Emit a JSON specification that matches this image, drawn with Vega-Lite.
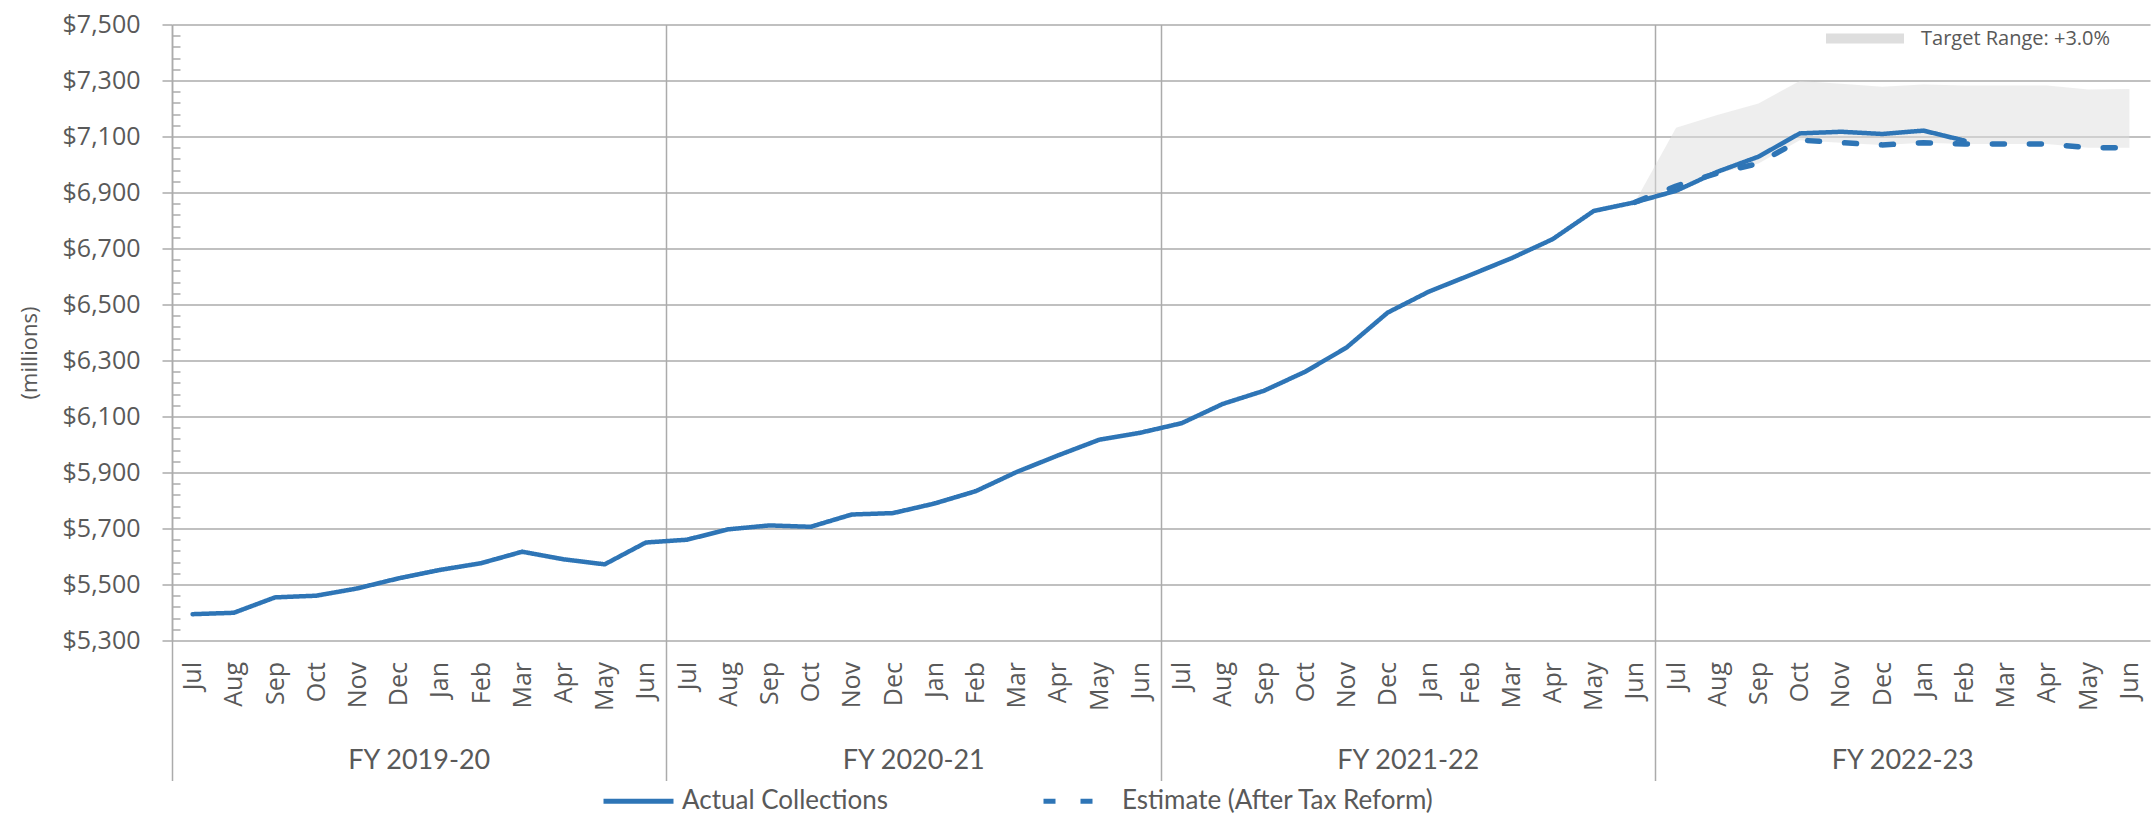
{
  "$schema": "https://vega.github.io/schema/vega-lite/v6.json",
  "width": 1978,
  "height": 616,
  "autosize": {"type": "none"},
  "padding": {"left": 172, "top": 24.5, "right": 1, "bottom": 176.5},
  "background": "white",
  "config": {
    "view": {"stroke": null},
    "font": "Open Sans",
    "axis": {"labelColor": "#595959", "titleColor": "#595959"}
  },
  "datasets": {
    "monthly": [
      {"key": "2019-07|Jul", "actual": 5394, "estimate": null, "upper": null},
      {"key": "2019-08|Aug", "actual": 5399, "estimate": null, "upper": null},
      {"key": "2019-09|Sep", "actual": 5454, "estimate": null, "upper": null},
      {"key": "2019-10|Oct", "actual": 5460, "estimate": null, "upper": null},
      {"key": "2019-11|Nov", "actual": 5486, "estimate": null, "upper": null},
      {"key": "2019-12|Dec", "actual": 5522, "estimate": null, "upper": null},
      {"key": "2020-01|Jan", "actual": 5552, "estimate": null, "upper": null},
      {"key": "2020-02|Feb", "actual": 5576, "estimate": null, "upper": null},
      {"key": "2020-03|Mar", "actual": 5617, "estimate": null, "upper": null},
      {"key": "2020-04|Apr", "actual": 5590, "estimate": null, "upper": null},
      {"key": "2020-05|May", "actual": 5572, "estimate": null, "upper": null},
      {"key": "2020-06|Jun", "actual": 5650, "estimate": null, "upper": null},
      {"key": "2020-07|Jul", "actual": 5660, "estimate": null, "upper": null},
      {"key": "2020-08|Aug", "actual": 5697, "estimate": null, "upper": null},
      {"key": "2020-09|Sep", "actual": 5711, "estimate": null, "upper": null},
      {"key": "2020-10|Oct", "actual": 5706, "estimate": null, "upper": null},
      {"key": "2020-11|Nov", "actual": 5750, "estimate": null, "upper": null},
      {"key": "2020-12|Dec", "actual": 5755, "estimate": null, "upper": null},
      {"key": "2021-01|Jan", "actual": 5789, "estimate": null, "upper": null},
      {"key": "2021-02|Feb", "actual": 5833, "estimate": null, "upper": null},
      {"key": "2021-03|Mar", "actual": 5902, "estimate": null, "upper": null},
      {"key": "2021-04|Apr", "actual": 5961, "estimate": null, "upper": null},
      {"key": "2021-05|May", "actual": 6017, "estimate": null, "upper": null},
      {"key": "2021-06|Jun", "actual": 6042, "estimate": null, "upper": null},
      {"key": "2021-07|Jul", "actual": 6076, "estimate": null, "upper": null},
      {"key": "2021-08|Aug", "actual": 6145, "estimate": null, "upper": null},
      {"key": "2021-09|Sep", "actual": 6192, "estimate": null, "upper": null},
      {"key": "2021-10|Oct", "actual": 6260, "estimate": null, "upper": null},
      {"key": "2021-11|Nov", "actual": 6346, "estimate": null, "upper": null},
      {"key": "2021-12|Dec", "actual": 6471, "estimate": null, "upper": null},
      {"key": "2022-01|Jan", "actual": 6546, "estimate": null, "upper": null},
      {"key": "2022-02|Feb", "actual": 6605, "estimate": null, "upper": null},
      {"key": "2022-03|Mar", "actual": 6665, "estimate": null, "upper": null},
      {"key": "2022-04|Apr", "actual": 6733, "estimate": null, "upper": null},
      {"key": "2022-05|May", "actual": 6834, "estimate": null, "upper": null},
      {"key": "2022-06|Jun", "actual": 6865, "estimate": 6865, "upper": 6865},
      {"key": "2022-07|Jul", "actual": 6906, "estimate": 6923, "upper": 7131},
      {"key": "2022-08|Aug", "actual": 6974, "estimate": 6969, "upper": 7177},
      {"key": "2022-09|Sep", "actual": 7028, "estimate": 7004, "upper": 7218},
      {"key": "2022-10|Oct", "actual": 7111, "estimate": 7087, "upper": 7298},
      {"key": "2022-11|Nov", "actual": 7117, "estimate": 7078, "upper": 7288},
      {"key": "2022-12|Dec", "actual": 7109, "estimate": 7070, "upper": 7278},
      {"key": "2023-01|Jan", "actual": 7121, "estimate": 7078, "upper": 7286},
      {"key": "2023-02|Feb", "actual": 7085, "estimate": 7073, "upper": 7282},
      {"key": "2023-03|Mar", "actual": null, "estimate": 7073, "upper": 7282},
      {"key": "2023-04|Apr", "actual": null, "estimate": 7073, "upper": 7282},
      {"key": "2023-05|May", "actual": null, "estimate": 7060, "upper": 7268},
      {"key": "2023-06|Jun", "actual": null, "estimate": 7060, "upper": 7270}
    ],
    "fy": [
      {"fy": "FY 2019-20"},
      {"fy": "FY 2020-21"},
      {"fy": "FY 2021-22"},
      {"fy": "FY 2022-23"}
    ]
  },
  "layer": [
    {
      "data": {"name": "monthly"},
      "encoding": {
        "x": {
          "field": "key",
          "type": "ordinal",
          "scale": {"type": "point", "padding": 0.5},
          "axis": {
            "orient": "bottom",
            "title": null,
            "ticks": false,
            "tickSize": 0,
            "domain": false,
            "grid": false,
            "labelAngle": 270,
            "labelPadding": 21,
            "labelFont": "Open Sans",
            "labelFontSize": 25,
            "labelColor": "#595959",
            "labelOverlap": false,
            "labelExpr": "split(datum.label, '|')[1]"
          }
        }
      },
      "layer": [
        {
          "transform": [{"filter": "datum.estimate != null"}],
          "mark": {"type": "area", "color": "#bfbfbf", "opacity": 0.5},
          "encoding": {
            "y": {
              "field": "estimate",
              "type": "quantitative",
              "scale": {"domain": [5300, 7500], "nice": false, "zero": false},
              "axis": {
                "orient": "left",
                "values": [5300, 5500, 5700, 5900, 6100, 6300, 6500, 6700, 6900, 7100, 7300, 7500],
                "format": "$,.0f",
                "labelFont": "Open Sans",
                "labelFontSize": 25,
                "labelPadding": 22,
                "labelColor": "#595959",
                "tickSize": 10,
                "tickColor": "#ababab",
                "tickWidth": 1.5,
                "grid": true,
                "gridColor": "#ababab",
                "gridWidth": 1.5,
                "domain": true,
                "domainColor": "#ababab",
                "domainWidth": 1.5,
                "title": "(millions)",
                "titleFont": "Open Sans",
                "titleFontSize": 22,
                "titleFontWeight": "normal",
                "titleColor": "#595959",
                "titleX": -143,
                "titleY": 328,
                "titleBaseline": "middle"
              }
            },
            "y2": {"field": "upper"},
            "fill": {
              "datum": "Target Range: +3.0%",
              "type": "nominal",
              "scale": {"range": ["#dedede"]},
              "legend": {
                "title": null,
                "orient": "none",
                "legendX": 1654,
                "legendY": -25,
                "symbolType": "M-1,-0.13H1V0.13H-1Z",
                "symbolSize": 6084,
                "symbolFillColor": "#dedede",
                "symbolOpacity": 1,
                "symbolStrokeWidth": 0,
                "labelFont": "Open Sans",
                "labelFontSize": 20,
                "labelColor": "#595959",
                "labelOffset": 17,
                "labelLimit": 0
              }
            }
          }
        },
        {
          "transform": [{"filter": "datum.actual != null"}],
          "mark": {"type": "line", "color": "#2e75b6", "strokeWidth": 4.5, "strokeJoin": "round", "strokeCap": "round"},
          "encoding": {
            "y": {
              "field": "actual",
              "type": "quantitative",
              "scale": {"domain": [5300, 7500], "nice": false, "zero": false},
              "axis": {
                "orient": "left",
                "values": [5300, 5500, 5700, 5900, 6100, 6300, 6500, 6700, 6900, 7100, 7300, 7500],
                "format": "$,.0f",
                "labelFont": "Open Sans",
                "labelFontSize": 25,
                "labelPadding": 22,
                "labelColor": "#595959",
                "tickSize": 10,
                "tickColor": "#ababab",
                "tickWidth": 1.5,
                "grid": true,
                "gridColor": "#ababab",
                "gridWidth": 1.5,
                "domain": true,
                "domainColor": "#ababab",
                "domainWidth": 1.5,
                "title": "(millions)",
                "titleFont": "Open Sans",
                "titleFontSize": 22,
                "titleFontWeight": "normal",
                "titleColor": "#595959",
                "titleX": -143,
                "titleY": 328,
                "titleBaseline": "middle"
              }
            },
            "strokeDash": {
              "datum": "Actual Collections",
              "type": "nominal",
              "scale": {
                "domain": ["Actual Collections", "Estimate (After Tax Reform)"],
                "range": [[1, 0], [12, 25]]
              },
              "legend": {
                "title": null,
                "orient": "none",
                "legendX": 429,
                "legendY": 739,
                "direction": "horizontal",
                "symbolType": "stroke",
                "symbolSize": 4900,
                "symbolStrokeWidth": 5,
                "symbolStrokeColor": "#2e75b6",
                "labelFont": "Lato",
                "labelFontSize": 26,
                "labelColor": "#595959",
                "labelOffset": 6,
                "labelLimit": 0,
                "columnPadding": 145
              }
            }
          }
        },
        {
          "transform": [{"filter": "datum.estimate != null"}],
          "mark": {"type": "line", "color": "#2e75b6", "strokeWidth": 5.5, "strokeJoin": "round", "strokeCap": "round"},
          "encoding": {
            "y": {
              "field": "estimate",
              "type": "quantitative",
              "scale": {"domain": [5300, 7500], "nice": false, "zero": false}
            },
            "strokeDash": {"datum": "Estimate (After Tax Reform)", "type": "nominal"}
          }
        }
      ]
    },
    {
      "data": {"name": "fy"},
      "mark": {"type": "point", "opacity": 0},
      "encoding": {
        "x": {
          "field": "fy",
          "type": "nominal",
          "scale": {"type": "band", "paddingInner": 0, "paddingOuter": 0},
          "axis": {
            "orient": "bottom",
            "title": null,
            "labels": false,
            "ticks": true,
            "tickSize": 140,
            "tickColor": "#ababab",
            "tickWidth": 1.5,
            "grid": true,
            "gridColor": "#ababab",
            "gridWidth": 1.5,
            "bandPosition": 0,
            "domain": false
          }
        },
        "y": {
          "datum": 6000,
          "type": "quantitative",
          "scale": {"domain": [5300, 7500], "nice": false, "zero": false},
          "axis": {
            "orient": "left",
            "title": null,
            "labels": false,
            "grid": false,
            "domain": false,
            "tickSize": -8,
            "tickColor": "#ababab",
            "tickWidth": 1.5,
            "values": [5340, 5380, 5420, 5460, 5540, 5580, 5620, 5660, 5740, 5780, 5820, 5860, 5940, 5980, 6020, 6060, 6140, 6180, 6220, 6260, 6340, 6380, 6420, 6460, 6540, 6580, 6620, 6660, 6740, 6780, 6820, 6860, 6940, 6980, 7020, 7060, 7140, 7180, 7220, 7260, 7340, 7380, 7420, 7460]
          }
        }
      }
    },
    {
      "data": {"name": "fy"},
      "mark": {"type": "point", "opacity": 0},
      "encoding": {
        "x": {
          "field": "fy",
          "type": "nominal",
          "scale": {"type": "band", "paddingInner": 0, "paddingOuter": 0},
          "axis": {
            "orient": "bottom",
            "title": null,
            "labels": true,
            "ticks": false,
            "tickSize": 0,
            "grid": false,
            "domain": false,
            "labelAngle": 0,
            "labelPadding": 107,
            "labelBaseline": "top",
            "labelFont": "Lato",
            "labelFontSize": 27,
            "labelColor": "#595959"
          }
        }
      }
    }
  ],
  "resolve": {
    "scale": {"x": "independent", "y": "independent"},
    "axis": {"x": "independent", "y": "independent"}
  }
}
